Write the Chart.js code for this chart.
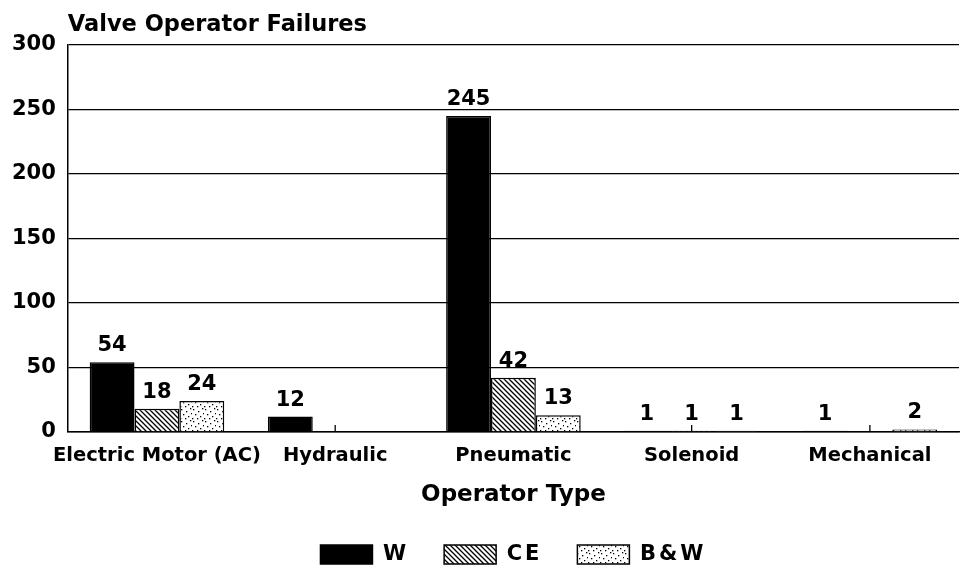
<!DOCTYPE html>
<html>
<head>
<meta charset="utf-8">
<script src="https://cdn.jsdelivr.net/npm/chart.js@4.4.1/dist/chart.umd.min.js"></script>
<style>
  body { margin: 0; background: #fff; }
  #wrap { width: 961px; height: 576px; }
</style>
</head>
<body>
<div id="wrap"><canvas id="chartBar" width="961" height="576"></canvas></div>
<script>
// Valve operator failures by operator type
const categories = ["Electric Motor (AC)", "Hydraulic", "Pneumatic", "Solenoid", "Mechanical"];
const valuesW = [54, 12, 245, 1, 1];
const valuesCE = [18, null, 42, 1, null];
const valuesBW = [24, null, 13, 1, 2];
const yTicks = [0, 50, 100, 150, 200, 250, 300];

const FONT = "'DejaVu Sans'";

// diagonal hatch for CE
function makeHatch() {
  var c = document.createElement("canvas");
  c.width = 5; c.height = 5;
  var g = c.getContext("2d");
  g.fillStyle = "#fff";
  g.fillRect(0, 0, 5, 5);
  g.strokeStyle = "#000";
  g.lineWidth = 1.3;
  g.beginPath();
  g.moveTo(-1, -1); g.lineTo(6, 6);
  g.moveTo(-1, 4); g.lineTo(1, 6);
  g.moveTo(4, -1); g.lineTo(6, 1);
  g.stroke();
  return g.createPattern(c, "repeat");
}

// sparse stipple for B&W
function makeStipple() {
  var c = document.createElement("canvas");
  c.width = 12; c.height = 12;
  var g = c.getContext("2d");
  g.fillStyle = "#fff";
  g.fillRect(0, 0, 12, 12);
  g.fillStyle = "#000";
  var dots = [[1, 1], [6, 3], [10, 0], [3, 6], [8, 8], [0, 10], [5, 10], [11, 5]];
  dots.forEach(function (d) { g.fillRect(d[0], d[1], 1.3, 1.3); });
  return g.createPattern(c, "repeat");
}

const titlePlugin = {
  id: "titlePlugin",
  afterDraw(chart) {
    var ctx = chart.ctx;
    ctx.save();
    ctx.font = "bold 22.5px " + FONT;
    ctx.fillStyle = "#000";
    ctx.textAlign = "left";
    ctx.textBaseline = "alphabetic";
    ctx.fillText("Valve Operator Failures", chart.chartArea.left, 31);
    ctx.restore();
  }
};

// small upward tick marks at category centres
const centerTicks = {
  id: "centerTicks",
  beforeDatasetsDraw(chart) {
    var ctx = chart.ctx;
    var xs = chart.scales.x;
    var bottom = chart.chartArea.bottom;
    ctx.save();
    ctx.strokeStyle = "#000";
    ctx.lineWidth = 1.3;
    categories.forEach(function (c, i) {
      var x = xs.getPixelForValue(i);
      ctx.beginPath();
      ctx.moveTo(x, bottom);
      ctx.lineTo(x, bottom - 7);
      ctx.stroke();
    });
    ctx.restore();
  }
};

const valueLabels = {
  id: "valueLabels",
  afterDatasetsDraw(chart) {
    var ctx = chart.ctx;
    ctx.save();
    ctx.font = "bold 21px " + FONT;
    ctx.fillStyle = "#000";
    ctx.textAlign = "center";
    ctx.textBaseline = "alphabetic";
    chart.data.datasets.forEach(function (ds, i) {
      chart.getDatasetMeta(i).data.forEach(function (bar, j) {
        var v = ds.data[j];
        if (!v) return;
        ctx.fillText(String(v), bar.x, bar.y - 11);
      });
    });
    ctx.restore();
  }
};

// wider legend text, legend centred under the plot area
const legendTweak = {
  id: "legendTweak",
  afterInit(chart) {
    var lg = chart.legend;
    ["fit", "draw"].forEach(function (m) {
      var orig = lg[m];
      lg[m] = function () {
        var ctx = chart.ctx;
        var prev = ctx.letterSpacing;
        ctx.letterSpacing = "3px";
        var r = orig.apply(this, arguments);
        ctx.letterSpacing = prev;
        return r;
      };
    });
  },
  afterLayout(chart) {
    var lg = chart.legend;
    var mid = (chart.chartArea.left + chart.chartArea.right) / 2;
    var d = mid - (lg.left + lg.right) / 2;
    lg.left += d;
    lg.right += d;
  }
};

const dataBar = {
  labels: categories,
  datasets: [
    {
      label: "W",
      data: valuesW,
      backgroundColor: "#000",
      borderColor: "#000",
      borderWidth: 1.5,
    },
    {
      label: "CE",
      data: valuesCE,
      backgroundColor: makeHatch(),
      borderColor: "#000",
      borderWidth: 1.5,
    },
    {
      label: "B&W",
      data: valuesBW,
      backgroundColor: makeStipple(),
      borderColor: "#000",
      borderWidth: 1.5,
    },
  ],
};

const configBarChart = {
  type: "bar",
  data: dataBar,
  options: {
    responsive: false,
    animation: false,
    categoryPercentage: 0.755,
    barPercentage: 1.0,
    layout: { padding: { top: 45, left: 0, right: 2, bottom: 1 } },
    plugins: {
      title: { display: false },
      tooltip: { enabled: false },
      legend: {
        position: "bottom",
        labels: {
          color: "#000",
          font: { family: FONT, size: 21, weight: "bold" },
          boxWidth: 52,
          boxHeight: 19,
          padding: 35,
        },
      },
    },
    scales: {
      x: {
        grid: { display: false },
        border: { color: "#000", width: 1.5 },
        ticks: {
          color: "#000",
          font: { family: FONT, size: 19.5, weight: "bold" },
          maxRotation: 0,
          autoSkip: false,
          padding: 4,
        },
        title: {
          display: true,
          text: "Operator Type",
          color: "#000",
          font: { family: FONT, size: 23, weight: "bold" },
          padding: { top: 10, bottom: 0 },
        },
      },
      y: {
        min: 0,
        max: 300,
        afterBuildTicks: function (s) {
          s.ticks = yTicks.map(function (v) { return { value: v }; });
        },
        grid: { color: "#000", lineWidth: 1.3, drawTicks: false },
        border: { color: "#000", width: 1.5 },
        ticks: {
          color: "#000",
          font: { family: FONT, size: 21, weight: "bold" },
          padding: 12,
        },
      },
    },
  },
  plugins: [titlePlugin, centerTicks, valueLabels, legendTweak],
};

var chartBar = new Chart(document.getElementById("chartBar"), configBarChart);
</script>
</body>
</html>
